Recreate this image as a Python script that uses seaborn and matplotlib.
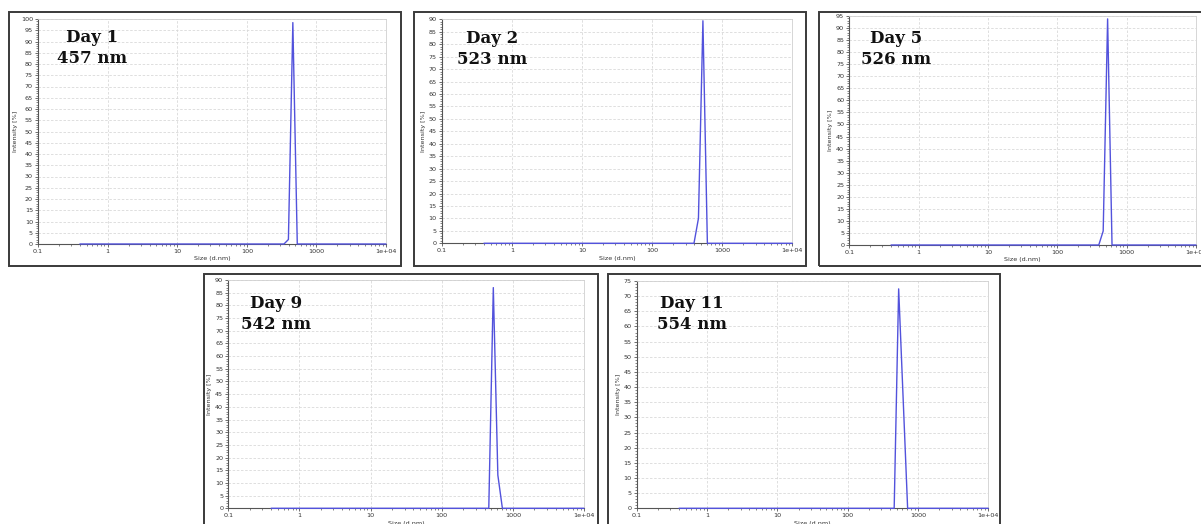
import numpy as np
import pandas as pd
import seaborn as sns
import matplotlib
matplotlib.use("Agg")
import matplotlib.pyplot as plt
from matplotlib.patches import Rectangle
from matplotlib.ticker import FixedLocator, FixedFormatter, MultipleLocator, LogLocator, NullFormatter

# Size distributions by intensity (DLS), one per measurement day
day_labels = ["Day 1", "Day 2", "Day 5", "Day 9", "Day 11"]
z_average = ["457 nm", "523 nm", "526 nm", "542 nm", "554 nm"]

size_day1 = [0.4, 342.0, 396.1, 458.7, 531.2, 10000]
int_day1 = [0, 0, 2.0, 98.4, 0, 0]

size_day2 = [0.4, 396.1, 458.7, 531.2, 615.1, 10000]
int_day2 = [0, 0, 10.0, 89.4, 0, 0]

size_day5 = [0.4, 396.1, 458.7, 531.2, 615.1, 10000]
int_day5 = [0, 0, 5.8, 93.8, 0, 0]

size_day9 = [0.4, 458.7, 531.2, 615.1, 712.4, 10000]
int_day9 = [0, 0, 87.0, 13.1, 0, 0]

size_day11 = [0.4, 458.7, 531.2, 712.4, 10000]
int_day11 = [0, 0, 72.4, 0, 0]

y_max = [100, 90, 95, 90, 75]
x_tick_values = [0.1, 1, 10, 100, 1000, 10000]
x_tick_labels = ["0.1", "1", "10", "100", "1000", "1e+04"]

sizes = [size_day1, size_day2, size_day5, size_day9, size_day11]
intensities = [int_day1, int_day2, int_day5, int_day9, int_day11]

sns.set_style("white")
plt.rcParams["font.family"] = ["DejaVu Sans"]

W, H = 1201, 524
fig = plt.figure(figsize=(W / 100, H / 100), dpi=100)

# Layout in pixels: axes box (x0, y0 top, x1, y1 bottom), outer frame box, text centre
axes_px = [
    (38, 19, 386, 244),
    (441.7, 19.3, 792.3, 243.3),
    (849.3, 16, 1196, 245),
    (228.3, 280, 584, 508.3),
    (636.7, 281, 988.3, 508.3),
]
frame_px = [
    (8.5, 12.3, 401, 265.7),
    (414, 11.7, 805.5, 265.7),
    (819, 11.7, 1210, 265.7),
    (203.5, 274, 597.5, 540),
    (608, 274, 999.5, 540),
]
text_px = [(92, 48), (492, 49), (896, 49), (276, 314), (692, 314)]

line_color = "#5252dc"
grid_color = "#d9d9d9"

for i in range(5):
    x0, y0, x1, y1 = axes_px[i]
    ax = fig.add_axes([x0 / W, 1 - y1 / H, (x1 - x0) / W, (y1 - y0) / H])
    df = pd.DataFrame({"Size (d.nm)": sizes[i], "Intensity [%]": intensities[i]})
    sns.lineplot(data=df, x="Size (d.nm)", y="Intensity [%]", ax=ax,
                 color=line_color, lw=1.0, estimator=None, sort=False)
    for ln in ax.lines:
        ln.set_clip_on(False)
        ln.set_zorder(5)
    ax.set_xscale("log")
    ax.set_xlim(0.1, 10000)
    ax.set_ylim(0, y_max[i])

    ax.xaxis.set_major_locator(FixedLocator(x_tick_values))
    ax.xaxis.set_major_formatter(FixedFormatter(x_tick_labels))
    ax.xaxis.set_minor_locator(LogLocator(base=10, subs=np.arange(2, 10)))
    ax.xaxis.set_minor_formatter(NullFormatter())
    ax.yaxis.set_major_locator(MultipleLocator(5))
    ax.yaxis.set_minor_locator(MultipleLocator(1))

    ax.tick_params(axis="both", which="major", labelsize=4.6, colors="#555555",
                   labelcolor="#333333", length=2.5, width=0.6, pad=1.2, direction="out")
    ax.tick_params(axis="both", which="minor", colors="#555555", length=1.3, width=0.5,
                   direction="out")
    ax.tick_params(left=True, bottom=True, which="both")

    ax.grid(True, which="major", color=grid_color, lw=0.6, ls=(0, (3, 2)))
    for side in ["left", "bottom"]:
        ax.spines[side].set_color("#555555")
        ax.spines[side].set_linewidth(0.8)
    for side in ["top", "right"]:
        ax.spines[side].set_color("#d0d0d0")
        ax.spines[side].set_linewidth(0.6)

    ax.set_xlabel("Size (d.nm)", fontsize=4.6, color="#333333", labelpad=1.5)
    ax.set_ylabel("Intensity [%]", fontsize=4.6, color="#333333", labelpad=2)

    tx, ty = text_px[i]
    fig.text(tx / W, 1 - ty / H, f"{day_labels[i]}\n{z_average[i]}", ha="center", va="center",
             fontsize=12, fontweight="bold", family="DejaVu Serif", linespacing=1.25,
             color="#111111")

    fx0, fy0, fx1, fy1 = frame_px[i]
    fig.patches.append(Rectangle((fx0 / W, 1 - fy1 / H), (fx1 - fx0) / W, (fy1 - fy0) / H,
                                 transform=fig.transFigure, fill=False,
                                 edgecolor="#3a3a3a", lw=1.4, zorder=10))

fig.savefig("out.png", dpi=100, facecolor="white")
